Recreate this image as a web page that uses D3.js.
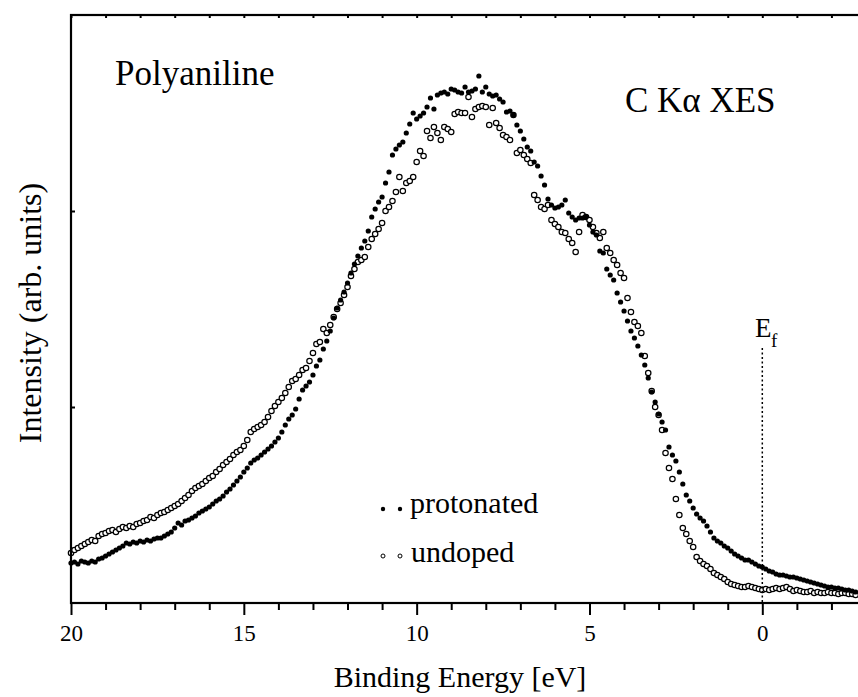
<!DOCTYPE html>
<meta charset="utf-8">
<style>
body { margin: 0; background: #fff; }
svg { display: block; }
text { font-family: "Liberation Serif", "Times New Roman", serif; fill: #000; }
</style>
<body>
<script src="https://d3js.org/d3.v7.min.js"></script>
<script>

// binding energy grid (eV)
var energy = [
  20.0,19.9,19.8,19.7,19.6,19.5,19.4,19.3,19.2,19.1,
  19.0,18.9,18.8,18.7,18.6,18.5,18.4,18.3,18.2,18.1,
  18.0,17.9,17.8,17.7,17.6,17.5,17.4,17.3,17.2,17.1,
  17.0,16.9,16.8,16.7,16.6,16.5,16.4,16.3,16.2,16.1,
  16.0,15.9,15.8,15.7,15.6,15.5,15.4,15.3,15.2,15.1,
  15.0,14.9,14.8,14.7,14.6,14.5,14.4,14.3,14.2,14.1,
  14.0,13.9,13.8,13.7,13.6,13.5,13.4,13.3,13.2,13.1,
  13.0,12.9,12.8,12.7,12.6,12.5,12.4,12.3,12.2,12.1,
  12.0,11.9,11.8,11.7,11.6,11.5,11.4,11.3,11.2,11.1,
  11.0,10.9,10.8,10.7,10.6,10.5,10.4,10.3,10.2,10.1,
  10.0,9.9,9.8,9.7,9.6,9.5,9.4,9.3,9.2,9.1,
  9.0,8.9,8.8,8.7,8.6,8.5,8.4,8.3,8.2,8.1,
  8.0,7.9,7.8,7.7,7.6,7.5,7.4,7.3,7.2,7.1,
  7.0,6.9,6.8,6.7,6.6,6.5,6.4,6.3,6.2,6.1,
  6.0,5.9,5.8,5.7,5.6,5.5,5.4,5.3,5.2,5.1,
  5.0,4.9,4.8,4.7,4.6,4.5,4.4,4.3,4.2,4.1,
  4.0,3.9,3.8,3.7,3.6,3.5,3.4,3.3,3.2,3.1,
  3.0,2.9,2.8,2.7,2.6,2.5,2.4,2.3,2.2,2.1,
  2.0,1.9,1.8,1.7,1.6,1.5,1.4,1.3,1.2,1.1,
  1.0,0.9,0.8,0.7,0.6,0.5,0.4,0.3,0.2,0.1,
  0.0,-0.1,-0.2,-0.3,-0.4,-0.5,-0.6,-0.7,-0.8,-0.9,
  -1.0,-1.1,-1.2,-1.3,-1.4,-1.5,-1.6,-1.7,-1.8,-1.9,
  -2.0,-2.1,-2.2,-2.3,-2.4,-2.5,-2.6,-2.7
];

// intensity (arb. units), filled dots
var protonated = [
  40,41,39,42,41,40,42,41,44,45,
  47,49,51,53,55,57,60,59,61,60,
  62,61,63,62,64,65,65,67,69,71,
  75,80,78,82,83,85,87,90,92,94,
  96,99,102,104,107,111,114,118,122,126,
  131,135,140,143,145,148,151,154,157,161,
  165,171,178,184,188,194,204,213,217,221,
  228,237,243,254,262,272,285,295,303,311,
  320,330,339,347,355,362,372,386,394,401,
  406,420,431,448,454,458,461,470,479,490,
  484,487,490,496,505,494,508,510,511,509,
  514,513,511,510,516,511,512,514,527,511,
  516,509,507,508,504,501,491,492,488,478,
  472,464,456,452,441,437,427,418,404,398,
  395,396,398,403,390,386,383,385,385,386,
  378,371,368,352,350,334,328,323,310,301,
  292,282,272,265,257,248,238,225,211,201,
  189,181,173,156,148,142,131,119,108,102,
  95,89,85,82,77,71,65,62,60,57,
  55,52,49,47,45,43,43,41,39,37,
  36,34,32,31,29,28,28,27,26,26,
  25,24,23,22,21,20,19,18,17,16,
  16,15,15,14,13,13,12,11
];

// intensity (arb. units), open circles
var undoped = [
  50,53,55,57,59,61,63,62,67,69,
  70,72,73,71,74,76,75,77,76,79,
  80,82,83,86,85,88,90,91,93,95,
  97,99,102,105,108,112,115,117,119,122,
  125,127,131,134,138,141,144,148,151,153,
  157,163,171,174,176,178,181,186,192,197,
  201,205,210,216,222,224,228,233,235,242,
  250,259,261,274,270,278,286,294,300,308,
  316,327,334,341,343,346,356,364,369,374,
  380,392,396,402,411,426,412,420,422,426,
  441,452,447,472,465,476,470,463,476,474,
  471,489,491,490,490,506,486,494,496,497,
  496,478,495,480,475,468,466,463,488,450,
  453,448,444,440,408,403,396,394,398,383,
  379,376,371,370,364,360,351,371,388,386,
  383,376,370,365,371,355,350,343,338,330,
  325,305,291,281,277,270,247,230,212,196,
  188,173,150,135,124,104,88,75,69,62,
  56,46,42,39,37,34,30,28,26,24,
  21,19,18,17,16,16,17,16,15,14,
  13,14,13,14,15,14,15,16,14,12,
  13,12,11,11,12,10,11,10,10,11,
  10,10,9,10,10,9,9,8
];

var majorTicks = [20, 15, 10, 5, 0];
var minorTicks = [19, 18, 17, 16, 14, 13, 12, 11, 9, 8, 7, 6, 4, 3, 2, 1, -1, -2];
var yTicks = [196, 392];

var width = 858, height = 697;
var plot = {left: 71, top: 15, bottom: 603, right: 866};

var x = d3.scaleLinear().domain([20, -3]).range([plot.left, plot.right]);
var y = d3.scaleLinear().domain([0, 588]).range([plot.bottom, plot.top]);

var svg = d3.select("body").append("svg")
    .attr("width", width)
    .attr("height", height);

// data points
var undopedData = energy.map(function(e, i) { return {e: e, v: undoped[i]}; });
var protData = energy.map(function(e, i) { return {e: e, v: protonated[i]}; });

svg.append("g").selectAll("circle")
    .data(undopedData)
  .enter().append("circle")
    .attr("cx", function(d) { return x(d.e); })
    .attr("cy", function(d) { return y(d.v); })
    .attr("r", 2.7)
    .attr("fill", "#fff")
    .attr("stroke", "#000")
    .attr("stroke-width", 1.2);

svg.append("g").selectAll("circle")
    .data(protData)
  .enter().append("circle")
    .attr("cx", function(d) { return x(d.e); })
    .attr("cy", function(d) { return y(d.v); })
    .attr("r", 2.6)
    .attr("fill", "#000");

// Fermi level marker
svg.append("line")
    .attr("x1", x(0)).attr("x2", x(0))
    .attr("y1", 348).attr("y2", plot.bottom)
    .attr("stroke", "#000")
    .attr("stroke-width", 1.5)
    .attr("stroke-dasharray", "2,2.5");

svg.append("text").attr("x", 755).attr("y", 337)
    .style("font-size", "27px").text("E");
svg.append("text").attr("x", 771).attr("y", 347)
    .style("font-size", "19px").text("f");

// frame
svg.append("rect")
    .attr("x", plot.left).attr("y", plot.top)
    .attr("width", plot.right - plot.left)
    .attr("height", plot.bottom - plot.top)
    .attr("fill", "none")
    .attr("stroke", "#000")
    .attr("stroke-width", 2.2);

// bottom axis, major + minor
var xMajor = svg.append("g")
    .attr("transform", "translate(0," + plot.bottom + ")")
    .call(d3.axisBottom(x).tickValues(majorTicks).tickSize(12).tickPadding(10)
      .tickFormat(d3.format("d")));
xMajor.select(".domain").remove();
xMajor.selectAll("line").attr("stroke-width", 2);
xMajor.selectAll("text").style("font-size", "23px")
    .style("font-family", "'Liberation Serif', 'Times New Roman', serif");

var xMinor = svg.append("g")
    .attr("transform", "translate(0," + plot.bottom + ")")
    .call(d3.axisBottom(x).tickValues(minorTicks).tickSize(7).tickFormat(""));
xMinor.select(".domain").remove();
xMinor.selectAll("line").attr("stroke-width", 2);

// top axis (mirrored, inward)
var xTop = svg.append("g")
    .attr("transform", "translate(0," + plot.top + ")")
    .call(d3.axisTop(x).tickValues(majorTicks.concat(minorTicks)).tickSize(-3).tickFormat(""));
xTop.select(".domain").remove();
xTop.selectAll("line").attr("stroke-width", 2);

// left axis ticks, no labels
var yAxis = svg.append("g")
    .attr("transform", "translate(" + plot.left + ",0)")
    .call(d3.axisLeft(y).tickValues(yTicks).tickSize(-4).tickFormat(""));
yAxis.select(".domain").remove();
yAxis.selectAll("line").attr("stroke-width", 2);

// labels
svg.append("text")
    .attr("x", 460).attr("y", 687)
    .attr("text-anchor", "middle")
    .style("font-size", "30px")
    .text("Binding Energy [eV]");

svg.append("text")
    .attr("transform", "translate(41,313) rotate(-90)")
    .attr("text-anchor", "middle")
    .style("font-size", "32px")
    .text("Intensity (arb. units)");

svg.append("text").attr("x", 115).attr("y", 85)
    .style("font-size", "35px").text("Polyaniline");
svg.append("text").attr("x", 625).attr("y", 112)
    .style("font-size", "35px").text("C K\u03b1 XES");

// legend
var legend = svg.append("g");
legend.selectAll(".lp").data([383, 400]).enter().append("circle")
    .attr("cx", function(d) { return d; }).attr("cy", 509)
    .attr("r", 2.2).attr("fill", "#000");
legend.append("text").attr("x", 410).attr("y", 513)
    .style("font-size", "30px").text("protonated");
legend.selectAll(".lu").data([383, 400]).enter().append("circle")
    .attr("cx", function(d) { return d; }).attr("cy", 556)
    .attr("r", 2).attr("fill", "#fff").attr("stroke", "#000").attr("stroke-width", 1);
legend.append("text").attr("x", 411).attr("y", 562)
    .style("font-size", "30px").text("undoped");

</script>
</body>
